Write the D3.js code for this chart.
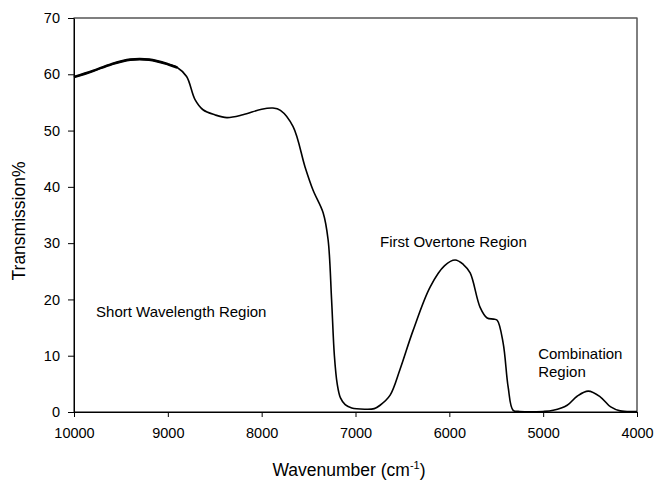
<!DOCTYPE html>
<meta charset="utf-8">
<script src="https://d3js.org/d3.v7.min.js"></script>
<style>
  body { margin: 0; background: #fff; }
  text { font-family: "Liberation Sans", Arial, sans-serif; fill: #000; }
</style>
<div id="chart"></div>
<script>
const width = 655
const height = 481
const margin = {top: 18, right: 18, bottom: 69, left: 74}

// spectrum (wavenumber cm-1, transmission %)
const wavenumber = [10000, 9800, 9600, 9400, 9200, 9000, 8900, 8800, 8710, 8625, 8500, 8370, 8200, 8000, 7880, 7800, 7665, 7537, 7452, 7345, 7292, 7255, 7225, 7195, 7160, 7110, 7040, 6900, 6800, 6738, 6631, 6525, 6386, 6205, 6050, 5938, 5850, 5778, 5672, 5597, 5530, 5490, 5426, 5373, 5320, 5250, 5000, 4893, 4744, 4638, 4520, 4392, 4280, 4179, 4000]
const transmission = [59.5, 60.6, 61.8, 62.6, 62.6, 61.8, 61.2, 59.6, 55.5, 53.7, 52.8, 52.3, 52.8, 53.8, 54.0, 53.6, 50.7, 43.5, 39.4, 35.4, 30.6, 20.0, 10.0, 5.0, 2.5, 1.3, 0.7, 0.5, 0.6, 1.2, 3.0, 7.6, 14.5, 22.2, 26.0, 27.0, 26.2, 24.7, 18.6, 16.7, 16.5, 16.3, 12.2, 4.4, 0.3, 0.1, 0.1, 0.3, 1.2, 2.8, 3.7, 2.7, 0.9, 0.2, 0.1]

const xTicks = [10000, 9000, 8000, 7000, 6000, 5000, 4000]
const yTicks = [0, 10, 20, 30, 40, 50, 60, 70]

const regionLabels = ["Short Wavelength Region", "First Overtone Region", "Combination", "Region"]
const regionAt = [[9765, 16.9], [6738, 29.4], [5053, 9.5], [5053, 6.3]]

const data = wavenumber.map((w, i) => ({w: w, t: transmission[i]}))

const svg = d3.select("#chart").append("svg")
  .attr("width", width)
  .attr("height", height)

const x = d3.scaleLinear().domain([10000, 4000]).range([margin.left, width - margin.right])
const y = d3.scaleLinear().domain([0, 70]).range([height - margin.bottom, margin.top])

// frame
svg.append("rect")
  .attr("x", margin.left)
  .attr("y", margin.top)
  .attr("width", width - margin.left - margin.right)
  .attr("height", height - margin.top - margin.bottom)
  .attr("fill", "none")
  .attr("stroke", "#000")
  .attr("stroke-width", 1)
svg.append("line")
  .attr("x1", margin.left).attr("x2", width - margin.right)
  .attr("y1", margin.top).attr("y2", margin.top)
  .attr("stroke", "#808080")

const xAxis = svg.append("g")
  .attr("transform", "translate(0," + (height - margin.bottom) + ")")
  .call(d3.axisBottom(x).tickValues(xTicks).tickFormat(d3.format("d")).tickSizeInner(5).tickSizeOuter(0).tickPadding(11))
const yAxis = svg.append("g")
  .attr("transform", "translate(" + margin.left + ",0)")
  .call(d3.axisLeft(y).tickValues(yTicks).tickSizeInner(6).tickSizeOuter(0).tickPadding(8))

svg.selectAll(".domain").attr("stroke", "#000")
svg.selectAll(".tick line").attr("stroke", "#000")
svg.selectAll(".tick text").style("font-size", "14.5px").attr("fill", "#000")

const line = d3.line()
  .x(d => x(d.w))
  .y(d => y(d.t))
  .curve(d3.curveCatmullRom.alpha(0.5))

svg.append("path")
  .datum(data)
  .attr("fill", "none")
  .attr("stroke", "#000")
  .attr("stroke-width", 1.6)
  .attr("d", line)

// the noisy start of the scan looks heavier
svg.append("path")
  .datum(data.filter(d => d.w >= 8900))
  .attr("fill", "none")
  .attr("stroke", "#000")
  .attr("stroke-width", 2.6)
  .attr("d", line)

svg.selectAll(".region")
  .data(regionLabels)
  .enter()
  .append("text")
  .attr("x", (d, i) => x(regionAt[i][0]))
  .attr("y", (d, i) => y(regionAt[i][1]))
  .style("font-size", "15px")
  .text(d => d)

// axis titles
const xt = svg.append("text")
  .attr("x", 349)
  .attr("y", 476)
  .attr("text-anchor", "middle")
  .style("font-size", "17.5px")
xt.append("tspan").text("Wavenumber (cm")
xt.append("tspan").attr("dy", -7).style("font-size", "11px").text("-1")
xt.append("tspan").attr("dy", 7).text(")")

svg.append("text")
  .attr("transform", "translate(25,221) rotate(-90)")
  .attr("text-anchor", "middle")
  .style("font-size", "17.5px")
  .text("Transmission%")
</script>
